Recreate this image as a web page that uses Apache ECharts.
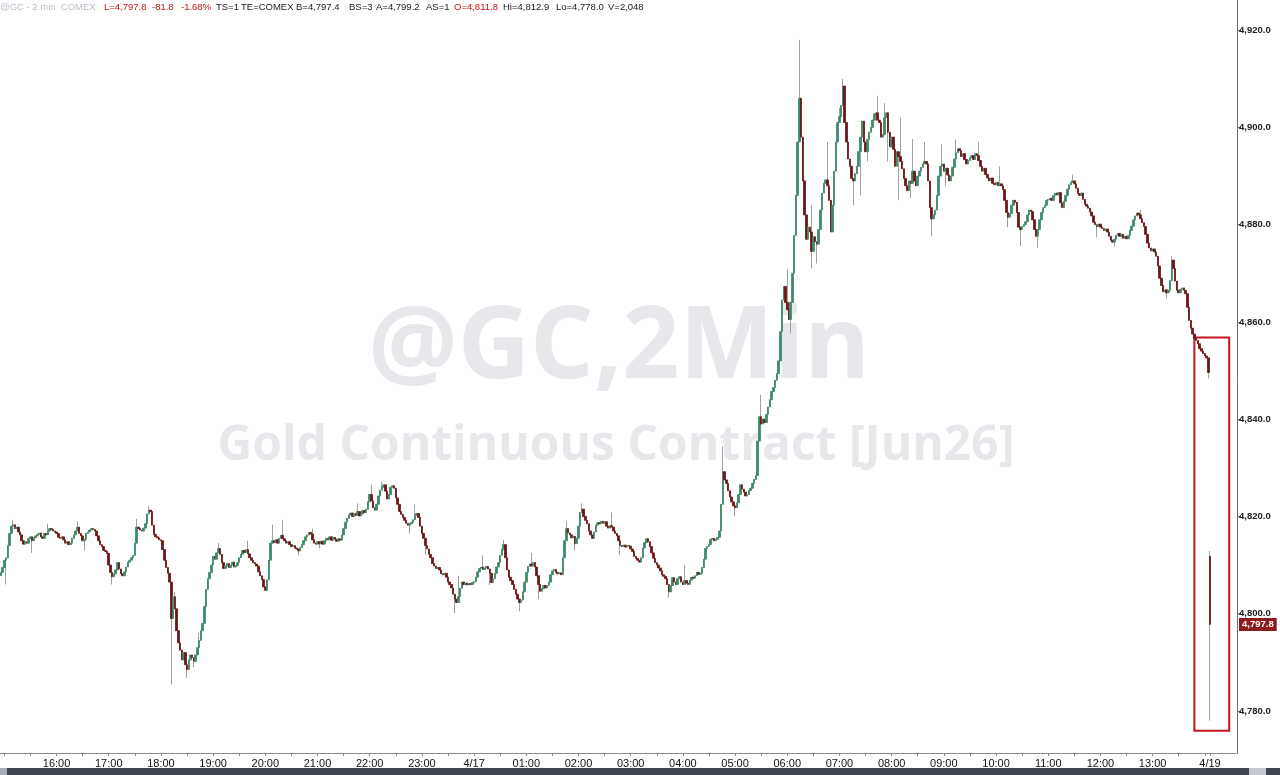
<!DOCTYPE html>
<html><head><meta charset="utf-8">
<script src="https://cdn.jsdelivr.net/npm/echarts@6/dist/echarts.min.js"></script>
<style>html,body{margin:0;padding:0;background:#fff}#c{width:1280px;height:775px}</style>
</head><body><div id="c"></div>
<script>
// ---- tick labels ----
const tickLabels = ['16:00','17:00','18:00','19:00','20:00','21:00','22:00','23:00','4/17','01:00','02:00','03:00','04:00','05:00','06:00','07:00','08:00','09:00','10:00','11:00','12:00','13:00','4/19'];
const yTicks = [4780,4800,4820,4840,4860,4880,4900,4920];

// ---- 2-minute closes (first bar 14:56, last Friday bar 14:04, then 4/19 session open bar) ----
const closes = [
4808.5,4809.5,4811,4811.5,4814,4816.5,4818,4818.3,4817.5,4817.8,
4816.8,4816.2,4815,4814.3,4814.8,4814.5,4815.5,4815.8,4815,4815.6,
4816,4816.3,4816.6,4815.8,4815.5,4816.5,4816.2,4817,4817.5,4817.3,
4817,4816.8,4816.5,4815.7,4815.5,4815.8,4815.2,4814.5,4814.8,4814.2,
4814.5,4815.5,4816.2,4817,4817.8,4816.5,4816,4815,4815.3,4816.5,
4816.8,4817.2,4817.5,4817.3,4817,4816,4815,4814.2,4813.8,4813,
4812.8,4812.4,4810,4808.5,4807.6,4808.2,4809,4810.5,4809.2,4808.2,
4807.8,4808.6,4809.6,4810.6,4811,4811.5,4812,4814.5,4817.8,4817.5,
4817.2,4817,4817.6,4818.5,4820.5,4821.3,4821,4818.2,4816.3,4815.8,
4815.6,4815.2,4815,4813.2,4811,4809.5,4808.3,4806.5,4799,4803.5,
4801,4796.5,4794,4792.5,4790.5,4792,4789.5,4788.5,4790.5,4791.5,
4791,4790.2,4791.5,4793,4794.5,4796.5,4798,4801.5,4805,4807.2,
4808.5,4810,4811.8,4811.2,4812.5,4813.4,4812.2,4810.5,4809.3,4809.8,
4810.3,4809.5,4810,4810.6,4809.6,4809.9,4810.5,4811.5,4812.2,4813,
4812.6,4813.2,4812.3,4811.5,4811,4810.5,4810.2,4809.8,4808.6,4807.8,
4807,4805.5,4804.8,4807,4811,4814.5,4815,4814.6,4815.2,4814.5,
4815.5,4816.1,4815.4,4815,4814.5,4814.8,4814.2,4813.8,4814,4813.5,
4813.3,4812.9,4813.6,4814.2,4815,4815.8,4816.2,4816.7,4816.4,4815.2,
4814.5,4814.3,4814.8,4814.4,4814.9,4814.3,4815,4815.5,4815.2,4815.8,
4815.1,4815.7,4815.3,4814.9,4815.4,4815.1,4816.2,4817.5,4818.8,4819.6,
4820.3,4820.7,4820,4820.6,4820.2,4821,4820.1,4820.5,4821.2,4820.8,
4821.5,4823,4824.5,4823.2,4821.8,4821.3,4822.5,4824.2,4825.4,4826,
4826.5,4825.2,4823.6,4824.5,4826,4826.3,4825.8,4823.8,4822.5,4821,
4820.4,4819.8,4819.2,4818.6,4818.2,4818.5,4818.8,4819.3,4820.2,4820.6,
4819.8,4818,4816.5,4815.5,4814,4813.3,4812.2,4811.5,4810.3,4809.8,
4809.3,4809.5,4809,4808.2,4808,4808.3,4807.5,4806.5,4806,4805.3,
4804,4803,4802.3,4803.5,4805.2,4806.5,4806,4806.3,4805.9,4806.2,
4806,4806.4,4806.6,4807.5,4808.6,4809.3,4809.6,4809.1,4809.4,4809.7,
4809.2,4808.3,4806.4,4807.2,4808.3,4809.6,4810.5,4812,4813.2,4814.2,
4811.5,4809,4807.5,4806.8,4806,4805,4804,4803,4802.3,4802.8,
4804.5,4806.5,4808.5,4809.7,4810.2,4809.8,4810.5,4809.6,4807.8,4806,
4804.6,4805.2,4805.8,4805.3,4805.8,4806.5,4808,4808.8,4809.1,4808.5,
4808.2,4808.4,4808,4811.5,4815,4817.5,4816.6,4816.2,4815.6,4815.9,
4814.4,4815.5,4818,4820.8,4821.5,4820,4819.2,4818.5,4817,4816.2,
4815.5,4816.8,4818.2,4818.7,4818.5,4819,4818.6,4818.9,4818,4817.6,
4818.1,4817.8,4817,4816.5,4816,4815,4814,4813.8,4814.1,4813.7,
4814,4813.9,4813.3,4812.8,4811.8,4811.4,4811,4810.6,4811.5,4813.5,
4814.6,4815.4,4814.8,4813.8,4812.5,4811.4,4810.5,4810,4809.4,4808.8,
4808,4807.7,4807.2,4806,4804.5,4805.8,4807.4,4806.5,4806,4807.2,
4807.6,4806.5,4806,4806.8,4806.3,4806,4806.9,4807.5,4807.3,4807.8,
4808.5,4808.1,4808.3,4809.5,4811.2,4813.4,4813.8,4814.2,4815.3,4815.5,
4815,4815.3,4815.7,4817,4822.5,4829.2,4827.5,4826.8,4825.3,4824,
4823,4822.2,4821.8,4822.8,4824.5,4826.5,4825.6,4825,4824.2,4824.5,
4825.3,4825.8,4826.8,4827.6,4828.4,4835.5,4840.5,4839,4840,4839.3,
4841,4842.5,4844,4845.7,4846.5,4848,4849.4,4852,4858,4864.5,
4867.3,4864,4862.5,4860.5,4864,4870,4877.8,4886,4897,4906,
4898,4889,4882,4877,4879.5,4878.5,4874.5,4877.5,4876.5,4876,
4879,4883,4886.5,4888.5,4889.2,4888,4885,4878.5,4884,4891,
4897,4901,4902.2,4904.5,4908.5,4901,4897,4893.5,4892,4889.5,
4889,4890.5,4892,4895,4898,4901.3,4897,4895,4897.5,4899,
4900,4901.5,4902.8,4903,4901.5,4901,4898,4898.5,4902,4903,
4899,4896,4898,4895.5,4892,4895,4894,4893,4891.5,4889.5,
4888,4887,4889,4888.5,4891,4889,4888,4890,4891,4891.8,
4892.5,4893,4892.5,4889,4883.5,4881.2,4882,4883,4886,4890,
4892,4892.5,4891,4891.6,4890.2,4889,4890,4891.8,4893.5,4894.8,
4895.6,4895.2,4894,4894.6,4893.4,4892.5,4893.2,4893.8,4894.2,4893.4,
4894.6,4894.2,4893.2,4892,4891,4891.6,4890.3,4889.6,4889,4889.6,
4888.5,4888.2,4888.7,4888,4888.4,4888,4887.2,4885,4882.5,4881.5,
4882.3,4884,4885,4884.6,4882.5,4879.5,4879,4879.6,4880,4880.6,
4882,4883,4882.7,4881,4879,4877.6,4879,4881,4882.5,4883.5,
4884,4885,4885.2,4885.4,4885,4886,4886.5,4886.1,4886.6,4884.5,
4883.5,4884.8,4886,4887.3,4888.2,4888.7,4889,4888.4,4887.5,4886.4,
4886,4886.5,4885.2,4884.2,4883.8,4883.4,4882.6,4881.8,4880.5,4880,
4879.6,4880.1,4879.5,4879.2,4878.8,4879.1,4878.5,4877.6,4876.8,4876.4,
4877,4877.8,4878.2,4877.6,4878,4877.2,4877.6,4877.1,4877.8,4878.8,
4879.7,4881,4881.8,4882.4,4882,4881.2,4880.4,4879.6,4878,4876.2,
4875.2,4874.6,4875,4874.4,4873.5,4871.5,4869,4867.5,4866.2,4866.6,
4866,4866.5,4868.5,4872.7,4871,4868.4,4866.5,4866,4866.7,4867,
4866.5,4865.8,4863,4860.3,4858.7,4857.5,4856.6,4856.2,4855.5,4854.5,
4854,4853.5,4853,4852.6,4849.6,4797.8
];
const firstOpen = 4807.8;
const sessionBreak = 695;            // first bar of the 4/19 session
const sessionOpen = 4811.8;
// visible wick extremes (bar index -> price)
const highs = {7:4819.3,27:4818.5,44:4819,78:4819.5,85:4822.2,100:4804.5,114:4796,125:4814.5,142:4815,156:4818.3,162:4819.3,179:4817.5,205:4822.7,213:4826.5,219:4827.2,238:4822.4,263:4807.8,277:4812,289:4815.2,305:4812.5,325:4819,334:4822.7,351:4820.8,393:4810,415:4834.4,437:4845,452:4870.8,459:4918,466:4884,475:4897,482:4904,484:4910,504:4906.5,508:4905,517:4902,524:4897.6,531:4897,541:4896.5,549:4897.5,562:4897,574:4892,616:4890.3,655:4883,673:4873.5,695:4812.9};
const lows = {3:4806,18:4812.5,48:4813,64:4806,98:4785.4,107:4786.8,111:4789,171:4812,183:4813.4,235:4816.5,244:4812.1,261:4800.1,281:4805.9,298:4800.5,309:4803,330:4813,356:4812.1,384:4803.3,422:4820,454:4857.6,466:4871,469:4872,490:4884,494:4886,498:4893,510:4893,516:4885,523:4885.5,535:4877.6,543:4888,579:4879.5,586:4875.6,596:4875.2,630:4877.4,640:4875.5,670:4864.8,694:4848.4,695:4778.0};
const lastPrice = 4797.8;
const padBars = 15;
const startMinute = 14 * 60 + 56;

// ---- categories ----
const p2 = n => (n < 10 ? '0' : '') + n;
const categories = [];
for (let i = 0; i < closes.length + padBars; i++) {
  if (i === sessionBreak) categories.push('4/19');
  else if (i > sessionBreak) categories.push('+' + i);
  else {
    const t = (startMinute + 2 * i) % 1440;
    categories.push(t === 0 ? '4/17' : p2(Math.floor(t / 60)) + ':' + p2(t % 60));
  }
}

// ---- OHLC ----
const full = [], bodies = [];
for (let i = 0; i < closes.length; i++) {
  const o = i === 0 ? firstOpen : (i === sessionBreak ? sessionOpen : closes[i - 1]);
  const c = closes[i];
  let lo = Math.min(o, c), hi = Math.max(o, c);
  if (highs[i] !== undefined) hi = Math.max(hi, highs[i]);
  if (lows[i] !== undefined) lo = Math.min(lo, lows[i]);
  full.push([o, c, lo, hi]);
  bodies.push([o, c, Math.min(o, c), Math.max(o, c)]);
}

const fmt = v => Number(v).toLocaleString('en-US', {minimumFractionDigits: 1, maximumFractionDigits: 1});
const UP = '#3c8a69', DOWN = '#6e1515', WICK = '#a0a0a0';

const headerItems = [
  {t: '@GC - 2 min  COMEX', c: '#b9bdc8', x: 0},
  {t: 'L=4,797.8', c: '#c81414', x: 104},
  {t: '-81.8', c: '#c81414', x: 152},
  {t: '-1.68%', c: '#c81414', x: 181},
  {t: 'TS=1', c: '#1a1a1a', x: 216},
  {t: 'TE=COMEX', c: '#1a1a1a', x: 241},
  {t: 'B=4,797.4', c: '#1a1a1a', x: 296},
  {t: 'BS=3', c: '#1a1a1a', x: 349},
  {t: 'A=4,799.2', c: '#1a1a1a', x: 376},
  {t: 'AS=1', c: '#1a1a1a', x: 426},
  {t: 'O=4,811.8', c: '#c81414', x: 454},
  {t: 'Hi=4,812.9', c: '#1a1a1a', x: 503},
  {t: 'Lo=4,778.0', c: '#1a1a1a', x: 556},
  {t: 'V=2,048', c: '#1a1a1a', x: 608}
];

const graphics = [
  {type: 'text', x: 619, y: 350, z: 0, silent: true,
   style: {text: '@GC,2Min', fill: '#e7e8eb', font: 'bold 100px "Open Sans"', textAlign: 'center', textVerticalAlign: 'middle', align: 'center', verticalAlign: 'middle'}},
  {type: 'text', x: 616, y: 446, z: 0, silent: true,
   style: {text: 'Gold Continuous Contract [Jun26]', fill: '#e7e8eb', font: 'bold 48px "Open Sans"', textAlign: 'center', textVerticalAlign: 'middle', align: 'center', verticalAlign: 'middle'}},
  {type: 'rect', z: 5, silent: true, shape: {x: 0, y: 768, width: 1280, height: 7}, style: {fill: '#3e4651'}},
  {type: 'rect', z: 6, silent: true, shape: {x: 0, y: 768, width: 7, height: 7}, style: {fill: '#a9aeb6'}},
  {type: 'rect', z: 6, silent: true, shape: {x: 1249, y: 768, width: 17, height: 7}, style: {fill: '#c5c8cd'}}
];
headerItems.forEach(h => graphics.push({type: 'text', x: h.x, y: 7, z: 10, silent: true,
  style: {text: h.t, fill: h.c, font: '9.5px "Liberation Sans"', textVerticalAlign: 'middle', verticalAlign: 'middle'}}));

const chart = echarts.init(document.getElementById('c'), null, {renderer: 'canvas'});
chart.setOption({
  animation: false,
  backgroundColor: '#ffffff',
  grid: {left: 0, right: 43, top: 0, bottom: 22, containLabel: false},
  xAxis: {
    type: 'category', data: categories, boundaryGap: true,
    axisLine: {show: true, lineStyle: {color: '#8a8a8a', width: 1}},
    axisTick: {show: true, alignWithLabel: true, length: 3, lineStyle: {color: '#8a8a8a'},
      interval: (i, v) => tickLabels.includes(v) || /:(00|30)$/.test(v)},
    axisLabel: {interval: (i, v) => tickLabels.includes(v), color: '#111', fontSize: 11, fontFamily: '"Liberation Sans", Arial', margin: 5},
    splitLine: {show: false}
  },
  yAxis: {
    type: 'value', position: 'right', min: 4771.35, max: 4926.2,
    splitLine: {show: false},
    axisLine: {show: true, lineStyle: {color: '#707070'}},
    axisTick: {show: true, customValues: yTicks, length: 4, lineStyle: {color: '#707070'}},
    axisLabel: {customValues: yTicks, formatter: v => fmt(v), margin: 2, color: '#222', fontSize: 9.5, fontWeight: 'bold', fontFamily: '"Liberation Sans", Arial'}
  },
  series: [
    {type: 'candlestick', name: 'wicks', data: full, large: false, barWidth: 0.3, silent: true, z: 2,
     itemStyle: {color: WICK, color0: WICK, borderColor: WICK, borderColor0: WICK, borderWidth: 1}},
    {type: 'candlestick', name: '@GC', data: bodies, large: false, barWidth: 2, silent: true, z: 3,
     itemStyle: {color: UP, color0: DOWN, borderColor: UP, borderColor0: DOWN, borderWidth: 0.8},
     markLine: {silent: true, symbol: 'none', animation: false,
       lineStyle: {color: 'rgba(0,0,0,0)', width: 1, type: 'solid'},
       label: {show: true, position: 'end', distance: 2, formatter: () => fmt(lastPrice), color: '#fff', backgroundColor: '#8c1c1c', fontWeight: 'bold', fontSize: 9.5, fontFamily: '"Liberation Sans", Arial', padding: [2, 3, 1, 3]},
       data: [{yAxis: lastPrice}]},
     markArea: {silent: true,
       itemStyle: {color: 'rgba(0,0,0,0)', borderColor: '#c4161c', borderWidth: 2},
       data: [[{xAxis: 686, yAxis: 4856.8}, {xAxis: 706, yAxis: 4775.9}]]}}
  ],
  graphic: graphics
});
</script></body></html>
